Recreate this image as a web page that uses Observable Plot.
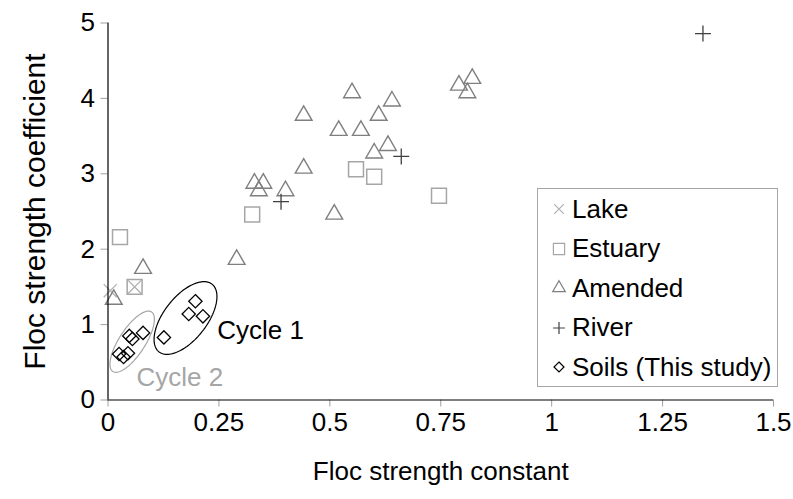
<!DOCTYPE html>
<html><head><meta charset="utf-8">
<script src="https://cdn.jsdelivr.net/npm/d3@7"></script>
<script src="https://cdn.jsdelivr.net/npm/@observablehq/plot@0.6"></script>
<style>
body{margin:0;background:#fff;}
#chart{position:relative;width:793px;height:499px;font-family:"Liberation Sans",Arial,sans-serif;}
#legend{position:absolute;left:537px;top:188px;width:241px;height:199px;border:1px solid #a6a6a6;background:#fff;box-sizing:border-box;}
.row{position:absolute;left:0;height:40px;display:flex;align-items:center;font-size:26px;color:#000;white-space:nowrap;}
.row svg{position:absolute;left:10px;}
.row span{position:absolute;left:34px;}
</style></head><body><div id="chart"></div>
<script>
// categories and series
const categories = ["Lake", "Estuary", "Amended", "River", "Soils (This study)"];
const lakeX = [0.005, 0.06];
const lakeY = [1.45, 1.50];
const estuaryX = [0.027, 0.06, 0.325, 0.559, 0.600, 0.746];
const estuaryY = [2.16, 1.50, 2.46, 3.06, 2.96, 2.71];
const amendedX = [0.013, 0.079, 0.290, 0.330, 0.350, 0.340, 0.400, 0.441, 0.441, 0.510, 0.520, 0.550, 0.570, 0.600, 0.610, 0.631, 0.640, 0.791, 0.810, 0.821];
const amendedY = [1.36, 1.77, 1.89, 2.90, 2.90, 2.80, 2.80, 3.80, 3.10, 2.49, 3.60, 4.10, 3.60, 3.30, 3.80, 3.40, 3.99, 4.20, 4.10, 4.29];
const riverX = [0.39, 0.661, 1.341];
const riverY = [2.63, 3.23, 4.86];
const soilsX = [0.197, 0.182, 0.214, 0.126, 0.079, 0.048, 0.055, 0.025, 0.035, 0.045];
const soilsY = [1.31, 1.14, 1.11, 0.83, 0.89, 0.85, 0.81, 0.61, 0.57, 0.62];

// ticks
const xTicks = [0, 0.25, 0.5, 0.75, 1, 1.25, 1.5];
const xTickLabels = ["0", "0.25", "0.5", "0.75", "1", "1.25", "1.5"];
const yTicks = [0, 1, 2, 3, 4, 5];
const yTickLabels = ["0", "1", "2", "3", "4", "5"];

// annotations: cycle ellipses (center and conjugate semi-axes, data units)
const cycleNames = ["Cycle 1", "Cycle 2"];
const cycleCX = [0.1747, 0.0545];
const cycleCY = [1.0875, 0.773];
const cycleUX = [0.0597, 0.0436];
const cycleUY = [0.4494, 0.3948];
const cycleVX = [0.0382, 0.0246];
const cycleVY = [-0.1756, -0.0939];
const cycleLabelX = [0.246, 0.064];
const cycleLabelY = [0.92, 0.30];
const cycleColors = ["#000000", "#a6a6a6"];

const zip = (xs, ys) => xs.map((x, i) => ({x, y: ys[i]}));
const lake = zip(lakeX, lakeY);
const estuary = zip(estuaryX, estuaryY);
const amended = zip(amendedX, amendedY);
const river = zip(riverX, riverY);
const soils = zip(soilsX, soilsY);

const ellipsePts = [];
cycleNames.forEach((name, j) => {
  for (let k = 0; k <= 120; k++) {
    const t = 2 * Math.PI * k / 120;
    ellipsePts.push({name, x: cycleCX[j] + cycleUX[j] * Math.cos(t) + cycleVX[j] * Math.sin(t), y: cycleCY[j] + cycleUY[j] * Math.cos(t) + cycleVY[j] * Math.sin(t)});
  }
});
const cycleLabels = cycleNames.map((n, i) => ({text: n, x: cycleLabelX[i], y: cycleLabelY[i], c: cycleColors[i]}));

const styles = {
  Lake: {symbol: "times", r: 6, stroke: "#b0b0b0", strokeWidth: 1.3},
  Estuary: {symbol: "square2", r: 9.5, stroke: "#a6a6a6", strokeWidth: 1.5},
  Amended: {symbol: "triangle2", r: 8, stroke: "#7f7f7f", strokeWidth: 1.4},
  River: {symbol: "plus", r: 5.2, stroke: "#404040", strokeWidth: 1.3},
  "Soils (This study)": {symbol: "diamond2", r: 6, stroke: "#000000", strokeWidth: 1.3}
};

const plot = Plot.plot({
  width: 793, height: 499,
  marginLeft: 107.5, marginRight: 20, marginTop: 22.5, marginBottom: 99.5,
  x: {domain: [0, 1.5], axis: null},
  y: {domain: [0, 5], axis: null},
  style: {fontFamily: "'Liberation Sans', Arial, sans-serif", background: "white", color: "black"},
  marks: [
    Plot.axisX(xTicks, {tickSize: 7, stroke: "#a0a0a0", tickPadding: 6, fontSize: 26, tickFormat: d => xTickLabels[xTicks.indexOf(d)], label: null}),
    Plot.axisY(yTicks, {tickSize: 7, stroke: "#a0a0a0", tickPadding: 6, fontSize: 26, tickFormat: d => yTickLabels[yTicks.indexOf(d)], label: null}),
    Plot.text(["Floc strength constant"], {frameAnchor: "bottom", dy: 80, fontSize: 26}),
    Plot.text(["Floc strength coefficient"], {frameAnchor: "left", textAnchor: "middle", rotate: -90, dx: -73, fontSize: 30}),
    Plot.line(ellipsePts, {x: "x", y: "y", z: "name", stroke: d => d.name, strokeWidth: 1.2}),
    Plot.text(cycleLabels, {x: "x", y: "y", text: "text", fill: "c", textAnchor: "start", fontSize: 26}),
    Plot.dot(lake, {x: "x", y: "y", ...styles.Lake}),
    Plot.dot(estuary, {x: "x", y: "y", ...styles.Estuary}),
    Plot.dot(amended, {x: "x", y: "y", dy: 2, ...styles.Amended}),
    Plot.dot(river, {x: "x", y: "y", ...styles.River}),
    Plot.dot(soils, {x: "x", y: "y", ...styles["Soils (This study)"]}),
    Plot.ruleX([0], {stroke: "black", strokeWidth: 1.2}),
    Plot.ruleY([0], {stroke: "black", strokeWidth: 1.2})
  ],
  color: {domain: cycleNames, range: cycleColors}
});
const chart = document.getElementById("chart");
chart.appendChild(plot);

// legend
const legend = document.createElement("div");
legend.id = "legend";
const symMap = {times: d3.symbolTimes, square2: d3.symbolSquare2, triangle2: d3.symbolTriangle2, plus: d3.symbolPlus, diamond2: d3.symbolDiamond2};
categories.forEach((c, i) => {
  const st = styles[c];
  const row = document.createElement("div");
  row.className = "row";
  row.style.top = (i * 39.6) + "px";
  const s = st.r * 0.75;
  const path = d3.symbol(symMap[st.symbol], Math.PI * s * s)();
  row.innerHTML = `<svg width="22" height="22" viewBox="-11 -11 22 22" style="top:9px"><path d="${path}" fill="none" stroke="${st.stroke}" stroke-width="1.2"/></svg><span>${c}</span>`;
  legend.appendChild(row);
});
chart.appendChild(legend);
</script>
</body></html>
